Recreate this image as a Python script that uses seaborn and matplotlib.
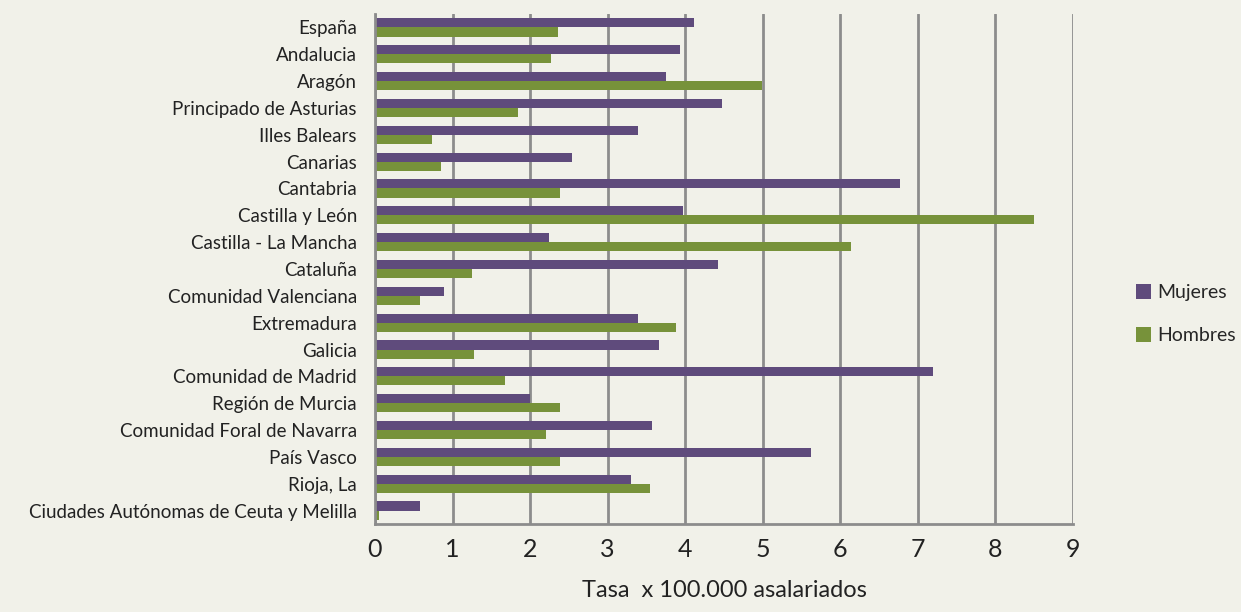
import matplotlib
matplotlib.use('Agg')
import matplotlib.pyplot as plt
import seaborn as sns
import pandas as pd
import numpy as np
from matplotlib.patches import Patch

regiones = ['España', 'Andalucia', 'Aragón', 'Principado de Asturias', 'Illes Balears',
            'Canarias', 'Cantabria', 'Castilla y León', 'Castilla - La Mancha', 'Cataluña',
            'Comunidad Valenciana', 'Extremadura', 'Galicia', 'Comunidad de Madrid',
            'Región de Murcia', 'Comunidad Foral de Navarra', 'País Vasco', 'Rioja, La',
            'Ciudades Autónomas de Ceuta y Melilla']
mujeres = [4.11, 3.93, 3.75, 4.48, 3.39, 2.54, 6.77, 3.97, 2.24, 4.42,
           0.89, 3.39, 3.66, 7.20, 2.00, 3.57, 5.62, 3.30, 0.58]
hombres = [2.36, 2.27, 4.99, 1.84, 0.73, 0.85, 2.39, 8.50, 6.14, 1.25,
           0.58, 3.88, 1.28, 1.67, 2.39, 2.21, 2.39, 3.54, 0.05]
series = ['Mujeres', 'Hombres']
colores = ['#5F4B7C', '#77923A']
bg = '#F1F1E9'
grid_col = '#8C8C8C'

df = pd.DataFrame({
    'region': regiones * 2,
    'valor': mujeres + hombres,
    'sexo': ['Mujeres'] * len(regiones) + ['Hombres'] * len(regiones),
})

sns.set_style('white')
plt.rcParams['font.family'] = ['Lato', 'DejaVu Sans']

fig = plt.figure(figsize=(12.41, 6.12), dpi=100, facecolor=bg)
ax = fig.add_axes([375 / 1241, 1 - 524 / 612, (1073 - 375) / 1241, (524 - 14) / 612])
ax.set_facecolor(bg)

sns.barplot(data=df, y='region', x='valor', hue='sexo', hue_order=series,
            palette=colores, order=regiones, width=0.68, orient='h',
            saturation=1, edgecolor='none', ax=ax, legend=False)

ax.set_xlim(0, 9)
ax.set_ylim(len(regiones) - 0.5, -0.5)
ax.set_xticks(range(10))
ax.set_xticklabels([str(i) for i in range(10)], fontsize=18, color='#222222')
ax.tick_params(axis='x', direction='inout', length=12, width=1.5, color=grid_col, pad=4)
ax.xaxis.grid(True, color=grid_col, linewidth=2)
ax.set_axisbelow(True)

ax.set_yticks(range(len(regiones)))
ax.set_yticklabels(regiones, fontsize=13.5, color='#222222')
ax.set_yticks(np.arange(-0.5, len(regiones), 1), minor=True)
ax.tick_params(axis='y', which='major', length=0, pad=13)
ax.tick_params(axis='y', which='minor', direction='out', length=6, width=1.5, color=grid_col)

ax.set_xlabel('Tasa  x 100.000 asalariados', fontsize=17, color='#222222', labelpad=14)
ax.set_ylabel('')

for s in ['top', 'right']:
    ax.spines[s].set_visible(False)
for s in ['left', 'bottom']:
    ax.spines[s].set_color(grid_col)
    ax.spines[s].set_linewidth(2)

handles = [Patch(facecolor=c, edgecolor='none', label=l) for c, l in zip(colores, series)]
fig.legend(handles=handles, loc='center left', bbox_to_anchor=(1118 / 1241, 1 - 314 / 612),
           frameon=False, fontsize=14, handlelength=0.8, handleheight=0.8,
           handletextpad=0.3, labelspacing=1.3)

fig.savefig('out.png', dpi=100, facecolor=bg)
